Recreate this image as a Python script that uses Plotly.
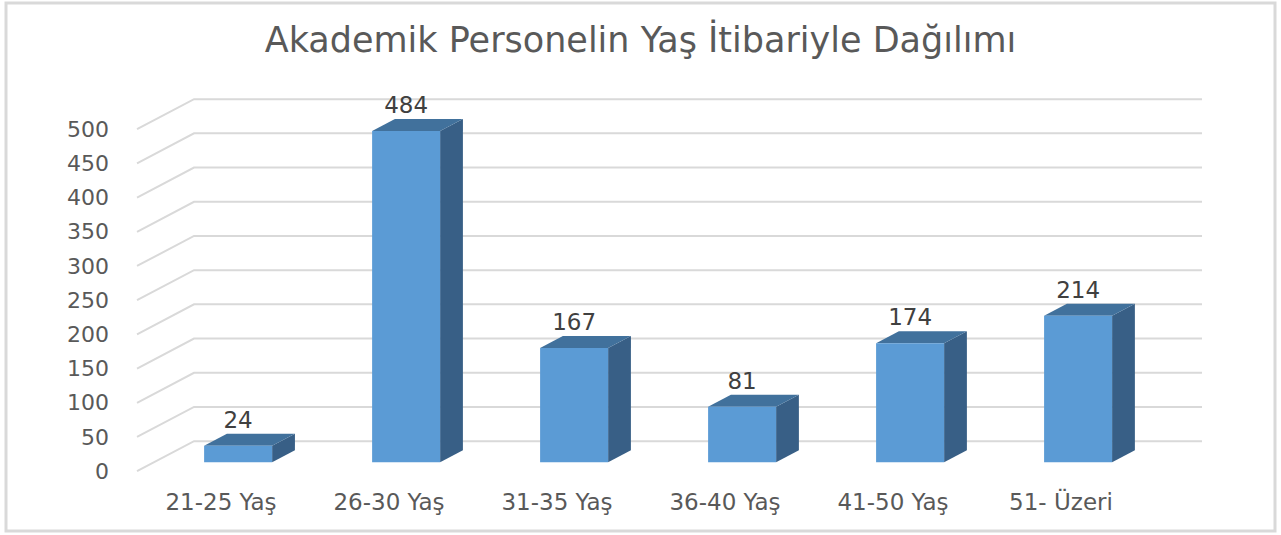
import plotly.graph_objects as go

# ---- data ----
categories = ["21-25 Yaş", "26-30 Yaş", "31-35 Yaş", "36-40 Yaş", "41-50 Yaş", "51- Üzeri"]
values = [24, 484, 167, 81, 174, 214]
y_ticks = [0, 50, 100, 150, 200, 250, 300, 350, 400, 450, 500]
title_text = "Akademik Personelin Yaş İtibariyle Dağılımı"

# ---- 3D projection settings (axis units) ----
DX = 0.3393      # full depth shift along x (category units)
DY = 43.86       # full depth shift along y (value units)
D_FRONT, D_BACK = 0.3, 0.7
HALF_W = 0.2024

FRONT_C = "#5B9BD5"
TOP_C = "#41719C"
SIDE_C = "#385F86"
GRID_C = "#D9D9D9"
TEXT_C = "#595959"

fig = go.Figure()

# back-wall gridlines and left-wall diagonals
gx, gy = [], []
for v in y_ticks:
    gx += [-0.5, -0.5 + DX, len(categories) - 0.5 + DX, None]
    gy += [v, v + DY, v + DY, None]
fig.add_trace(go.Scatter(x=gx, y=gy, mode="lines",
                         line=dict(color=GRID_C, width=2),
                         hoverinfo="skip", showlegend=False))

# bars
for i, v in enumerate(values):
    xl = i - HALF_W + DX * D_FRONT
    xr = i + HALF_W + DX * D_FRONT
    y0 = DY * D_FRONT
    ddx = DX * (D_BACK - D_FRONT)
    ddy = DY * (D_BACK - D_FRONT)
    # side face
    fig.add_trace(go.Scatter(
        x=[xr, xr + ddx, xr + ddx, xr, xr],
        y=[y0, y0 + ddy, y0 + ddy + v, y0 + v, y0],
        fill="toself", fillcolor=SIDE_C, mode="lines", line=dict(width=0),
        hoverinfo="skip", showlegend=False))
    # top face
    fig.add_trace(go.Scatter(
        x=[xl, xr, xr + ddx, xl + ddx, xl],
        y=[y0 + v, y0 + v, y0 + v + ddy, y0 + v + ddy, y0 + v],
        fill="toself", fillcolor=TOP_C, mode="lines", line=dict(width=0),
        hoverinfo="skip", showlegend=False))
    # front face
    fig.add_trace(go.Scatter(
        x=[xl, xr, xr, xl, xl],
        y=[y0, y0, y0 + v, y0 + v, y0],
        fill="toself", fillcolor=FRONT_C, mode="lines", line=dict(width=0),
        hoverinfo="skip", showlegend=False))

# data labels
fig.add_trace(go.Scatter(
    x=[i + DX * D_FRONT for i in range(len(values))],
    y=[v + DY * D_BACK for v in values],
    mode="text", text=[str(v) for v in values], textposition="top center",
    textfont=dict(family="DejaVu Sans", size=23, color="#404040"),
    cliponaxis=False, hoverinfo="skip", showlegend=False))

fig.update_layout(
    width=1281, height=535, autosize=False,
    paper_bgcolor="white", plot_bgcolor="white",
    margin=dict(l=135, r=71, t=96, b=57),
    title=dict(text=title_text, x=0.5, xref="container", xanchor="center",
               y=1 - 40 / 535, yref="container", yanchor="middle",
               font=dict(family="DejaVu Sans", size=35, color=TEXT_C)),
    xaxis=dict(range=[-0.512, 5.887], tickvals=list(range(len(categories))),
               ticktext=categories, showgrid=False, zeroline=False,
               showline=False, ticks="", ticklabelstandoff=8,
               tickfont=dict(family="DejaVu Sans", size=23, color=TEXT_C)),
    yaxis=dict(range=[-10, 548.5], tickvals=y_ticks, showgrid=False,
               zeroline=False, showline=False, ticks="", ticklabelstandoff=25,
               tickfont=dict(family="DejaVu Sans", size=22, color=TEXT_C)),
    shapes=[dict(type="rect", xref="paper", yref="paper",
                 x0=(6 - 135) / 1075, x1=(1275 - 135) / 1075,
                 y0=(478 - 531) / 382, y1=(478 - 3) / 382,
                 line=dict(color=GRID_C, width=3), fillcolor="rgba(0,0,0,0)",
                 layer="below")],
)

fig.write_html("out.html", config={"displayModeBar": False},
               post_script="document.body.style.margin='0';")
